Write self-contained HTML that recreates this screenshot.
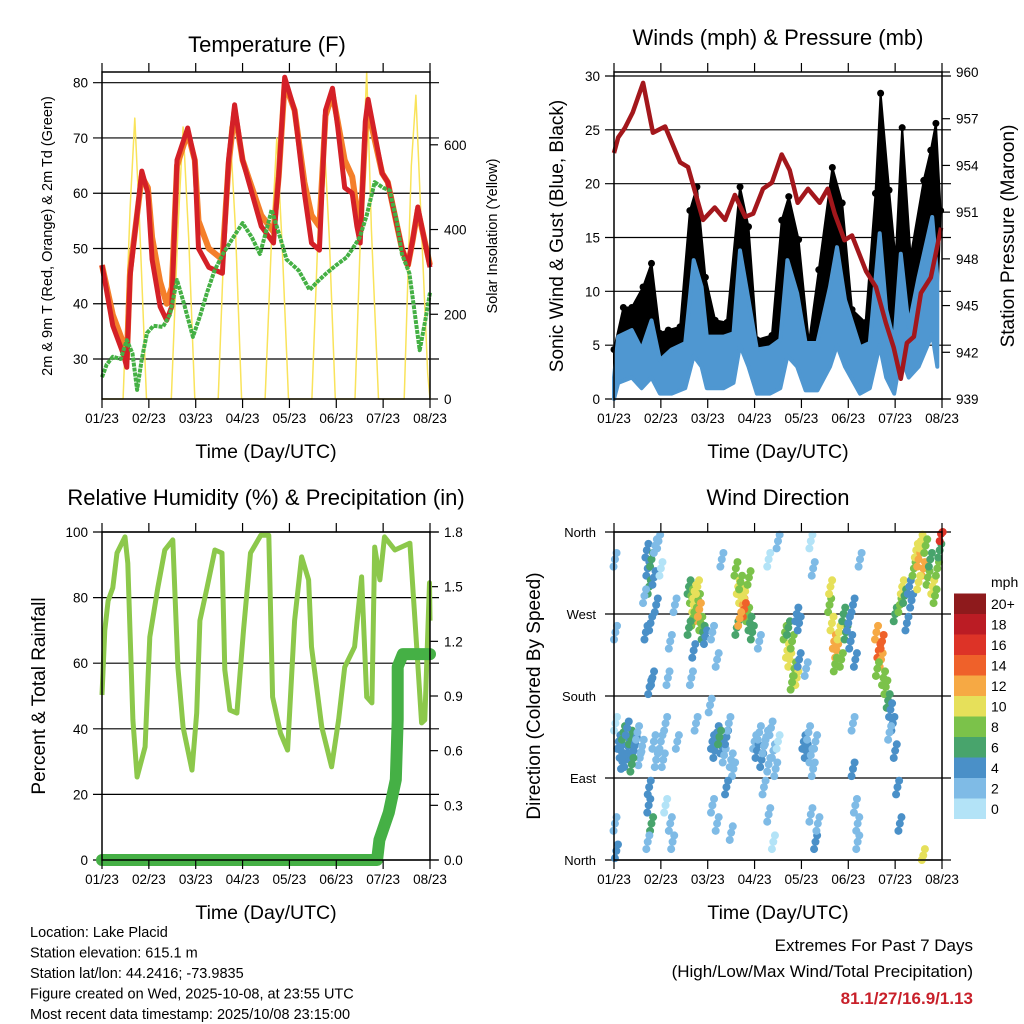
<!DOCTYPE html>
<html><head><meta charset="utf-8">
<style>
html,body{margin:0;padding:0;background:#fff;}
svg{display:block;font-family:"Liberation Sans",Arial,sans-serif;}
</style></head>
<body>
<svg id="chart" width="1024" height="1024" viewBox="0 0 1024 1024" xmlns="http://www.w3.org/2000/svg"></svg>
<script>
// ---------- DATA ----------
const dayLabels = ["01/23","02/23","03/23","04/23","05/23","06/23","07/23","08/23"];
const tempT = [0,0.23,0.45,0.53,0.6,0.85,0.98,1.07,1.24,1.38,1.49,1.6,1.83,1.98,2.06,2.28,2.57,2.7,2.83,3.0,3.4,3.66,3.77,3.9,4.11,4.32,4.47,4.64,4.77,4.92,5.03,5.18,5.34,5.44,5.51,5.62,5.68,5.98,6.1,6.4,6.53,6.63,6.74,7.0];
const tempRed = [47,36,31,28.5,45,64,60,48,39.5,37,39.5,66,71.8,66,50,46.6,45.5,66,76,66,54,51,63,81,75,60,51,49.7,75,79,72,61,60,54,51,73,77,63.6,62,50,47,51.5,57.5,46.6];
const tempOrange = [47,38,33,30,46,63,61,52,44,40,43,65,71,66,55,50,48,65,75,66,56,53,63,80,75,62,56,54,74,78,73,66,63,57,53,71,75,63.6,62,50,47,51.5,57,47];
const dewT = [0,0.1,0.23,0.4,0.53,0.65,0.75,0.85,0.96,1.1,1.3,1.45,1.6,1.75,1.94,2.1,2.24,2.4,2.58,2.8,3.0,3.2,3.37,3.5,3.62,3.8,3.94,4.2,4.43,4.6,4.79,5.0,5.22,5.35,5.5,5.65,5.82,6.0,6.14,6.29,6.4,6.56,6.78,6.9,7.0];
const dewPt = [26.7,29,30.4,30,33.4,31,24.4,30,34.7,36,35.8,38,44.3,40,34,38,42,46,49,52,54.6,52,49,53,57,52,48,46,42.5,44,45.5,47,48.4,50,52,56,62,61,60.5,55,49,45.5,31.6,37,42];
const solarT = [0,0.45,0.6,0.7,0.8,0.95,1.48,1.62,1.73,1.85,1.98,2.48,2.62,2.73,2.85,2.98,3.48,3.62,3.73,3.85,3.98,4.48,4.62,4.73,4.85,4.98,5.4,5.55,5.65,5.75,5.9,6.45,6.6,6.7,6.8,6.95,7.0];
const solarV = [0,0,450,663,420,0,0,400,642,380,0,0,420,642,400,0,0,380,616,350,0,0,420,640,380,0,0,500,772,400,0,0,550,717,450,60,0];
// Winds panel
const windT = [0,0.09,0.38,0.59,0.8,0.98,1.23,1.52,1.7,1.87,1.98,2.34,2.55,2.69,2.87,3.05,3.33,3.55,3.7,3.91,4.09,4.34,4.61,4.76,4.93,5.25,5.46,5.67,5.81,5.98,6.12,6.29,6.5,6.79,6.9];
const windTop = [2,5.8,6.4,4.6,7.3,3.6,4.6,5.2,12.9,10.4,5.8,5.8,6.1,13.8,9.2,4.6,4.8,5.5,12.9,9.8,5.2,5.2,10.4,14.1,9.2,4.8,5.2,15.4,8.3,5.2,13.5,6.7,11.3,16.9,11.3];
const windLow = [0,1.5,2,1,2,0.5,0.5,1,4,3,1,1,1.5,5,3,0.5,0.5,1,4,3,0.8,0.8,3,5,3,0.5,1,5,2,0.5,4,2,3,6,3];
const gustT = [0,0.2,0.38,0.62,0.8,0.98,1.16,1.41,1.62,1.77,1.95,2.16,2.41,2.69,2.87,3.05,3.37,3.58,3.73,3.94,4.16,4.37,4.66,4.87,5.08,5.37,5.58,5.69,5.87,6.01,6.15,6.33,6.61,6.76,6.87,6.97];
const gustV = [4.6,8.5,8.5,10.4,12.6,6.1,6.4,6.7,17.5,19.7,11.3,7.3,7.1,19.7,16,5.5,5.9,16.6,18.8,14.8,5.2,12,21.5,18.2,8.3,7.1,19.1,28.4,19.4,12.9,25.2,13.2,20.3,23.1,25.6,17.5];
const presT = [0,0.09,0.23,0.4,0.62,0.83,1.09,1.41,1.58,1.9,2.15,2.37,2.58,2.8,2.97,3.18,3.37,3.58,3.75,3.92,4.14,4.39,4.56,4.71,4.92,5.08,5.38,5.59,5.8,5.97,6.12,6.25,6.4,6.55,6.76,6.98];
const presV = [954.8,955.8,956.4,957.4,959.3,956.1,956.5,954.2,953.9,950.5,951.3,950.5,952.1,950.7,950.9,952.5,952.9,954.7,953.7,951.6,952.5,951.6,952.5,950.9,949.2,949.5,947.2,946.2,943.9,942.3,940.3,942.6,943,945.8,946.8,950];
// RH / precip panel
const rhT = [0,0.06,0.13,0.23,0.32,0.49,0.55,0.66,0.75,0.92,1.02,1.19,1.34,1.51,1.62,1.73,1.92,2.02,2.09,2.24,2.41,2.56,2.62,2.73,2.88,3.02,3.17,3.39,3.56,3.64,3.81,3.96,4.11,4.26,4.41,4.47,4.69,4.9,5.05,5.18,5.39,5.54,5.65,5.76,5.82,5.93,6.03,6.25,6.57,6.68,6.82,6.89,6.99,7.0];
const rhV = [50.3,70,79,83,93.6,98.5,90.5,42.7,25.3,34.5,68,83,94.5,97.6,58.8,40.5,27.4,44.8,73,83,94.5,93.6,58,45.7,44.8,70,93.6,99,99,49.7,38.7,33.5,73,92.4,85.4,65,40.5,28.4,42.7,58.8,65,86.3,49.7,47.9,95.4,85.4,98.5,94.5,96.6,73,41.8,42.7,84.5,73];
const precT = [0,5.87,5.92,6.12,6.27,6.31,6.31,6.42,7.0];
const precV = [0,0,0.11,0.26,0.44,0.77,1.06,1.13,1.13];
// Wind direction panel
const dirT = [0.1,0.15,0.2,0.25,0.3,0.35,0.4,0.45,0.5,0.55,0.6,0.18,0.28,0.38,0.02,0.02,0.03,0.03,0.05,
 0.7,0.72,0.75,0.8,0.85,0.9,0.95,0.78,0.88,0.65,0.68,0.82,0.76,0.74,0.8,0.72,0.75,0.85,0.9,
 1.0,1.05,1.1,1.15,1.2,1.1,1.2,1.25,1.0,1.3,1.35,
 1.6,1.65,1.7,1.72,1.75,1.8,1.85,1.9,1.78,1.68,1.82,1.6,1.95,1.7,1.65,1.75,
 2.1,2.15,2.2,2.3,2.35,2.4,2.45,2.5,2.55,2.25,2.05,2.1,2.2,2.4,2.5,2.2,2.1,2.3,
 2.6,2.65,2.7,2.75,2.8,2.85,2.9,2.7,2.78,2.62,2.88,2.95,2.68,
 3.0,3.05,3.1,3.15,3.2,3.25,3.3,3.35,3.4,3.45,3.5,3.2,3.3,3.4,3.1,3.3,3.5,
 3.65,3.7,3.75,3.8,3.85,3.9,3.72,3.8,3.95,3.9,3.95,
 4.05,4.1,4.15,4.2,4.3,4.25,4.2,4.3,4.35,4.1,4.25,4.2,
 4.6,4.65,4.7,4.75,4.8,4.85,4.9,4.95,5.0,5.05,5.1,5.15,4.72,4.62,
 5.1,5.15,5.2,5.1,5.2,5.25,
 5.6,5.65,5.7,5.75,5.8,5.85,5.9,5.95,6.0,6.05,6.1,5.62,5.72,5.88,
 6.0,6.1,6.15,6.2,6.3,6.4,6.45,6.5,6.55,6.6,6.65,6.7,6.75,6.8,6.9,6.95,6.98,6.25,6.35,6.85,6.5,6.6];
const dirV = [130,120,140,110,125,135,118,128,140,112,125,108,145,105,330,40,150,250,10,
 340,320,300,330,310,280,350,260,345,290,250,200,190,60,40,20,80,130,110,
 130,110,150,200,240,60,40,20,320,280,130,
 300,290,280,295,270,285,260,250,300,265,275,255,245,230,200,150,
 130,120,140,125,115,135,150,110,100,135,170,60,40,80,30,220,250,330,
 320,300,290,280,295,270,260,305,275,255,310,250,265,
 130,120,140,110,125,135,105,145,120,100,130,80,50,20,240,330,350,
 250,230,220,240,210,200,255,195,260,270,220,
 130,120,140,115,130,100,50,20,40,210,320,350,
 280,260,240,230,250,220,270,250,260,240,280,220,215,300,
 150,60,20,100,40,330,
 250,230,220,200,190,175,165,150,120,80,40,210,240,140,
 270,280,300,290,300,320,340,330,350,320,345,310,330,300,320,340,358,260,285,290,305,5];
const dirS = [5,4,6,4,5,7,4,5,3,3,2,5,4,6,2,3,1,3,4,
 4,5,6,7,4,4,2,4,3,2,4,4,5,5,7,3,4,3,2,
 2,3,2,3,2,1,2,2,1,3,2,
 7,9,11,10,12,9,8,7,10,8,13,6,4,4,3,2,
 4,5,4,5,3,4,2,3,2,7,3,3,2,4,3,3,2,2,
 9,10,11,12,10,8,7,8,14,7,9,6,12,
 3,4,3,4,2,3,2,2,3,2,1,3,2,1,2,1,2,
 9,10,11,9,8,10,7,8,4,4,4,
 4,5,3,2,2,3,2,4,3,2,2,1,
 8,10,12,13,11,9,6,6,5,4,4,4,8,10,
 3,2,2,4,3,2,
 12,14,13,9,8,6,5,4,4,4,4,8,15,3,
 6,8,10,6,4,9,11,13,10,12,9,8,7,10,8,6,16,4,5,9,11,10];
const speedBins = ["0","2","4","6","8","10","12","14","16","18","20+"];
const speedColors = ["#b3e3f7","#7fbbe6","#4a90c8","#48a46c","#7bc24a","#e6e05a","#f6a944","#ef612a","#dd3327","#bb1c24","#8e1a1c"];
const tempTicks = [30,40,50,60,70,80];
const solarTicks = [0,200,400,600];
const windTicks = [0,5,10,15,20,25,30];
const presTicks = [939,942,945,948,951,954,957,960];
const rhTicks = [0,20,40,60,80,100];
const precTicks = ["0.0","0.3","0.6","0.9","1.2","1.5","1.8"];
const dirTicks = ["North","East","South","West","North"];
const dirTickVals = [0,90,180,270,360];

// ---------- HELPERS ----------
const NS = "http://www.w3.org/2000/svg";
const svg = document.getElementById("chart");
function mk(tag, attrs, parent) {
  const e = document.createElementNS(NS, tag);
  for (const k in attrs) e.setAttribute(k, attrs[k]);
  (parent || svg).appendChild(e);
  return e;
}
function txt(str, x, y, size, anchor, extra) {
  const e = mk("text", Object.assign({x: x, y: y, "font-size": size, "text-anchor": anchor || "start", fill: "#000"}, extra || {}));
  e.textContent = str;
  return e;
}
function linScale(d0, d1, r0, r1) { return v => r0 + (v - d0) * (r1 - r0) / (d1 - d0); }
function frame(name) {
  const g = mk("g", {});
  
  
  return g;
}
function xAxis(g, x0, x1, y0, y1) {
  const xs = linScale(0, 7, x0, x1);
  dayLabels.forEach((lab, i) => {
    const x = xs(i);
    const t1 = mk("line", {x1: x, x2: x, y1: y0 - 9, y2: y0, stroke: "#000", "stroke-width": 1.2}, g);
    
    
    const t2 = mk("line", {x1: x, x2: x, y1: y1, y2: y1 + 9, stroke: "#000", "stroke-width": 1.2}, g);
    
    
    const l = txt(lab, x, y1 + 24, 13.5, "middle");
    
    
  });
  const t = txt("Time (Day/UTC)", (x0 + x1) / 2, y1 + 59, 19.5, "middle");
  
  
}
function border(g, x0, x1, y0, y1) {
  const r = mk("rect", {x: x0, y: y0, width: x1 - x0, height: y1 - y0, fill: "none", stroke: "#000", "stroke-width": 1.5}, g);
  
  
}
function grid(g, y, x0, x1) {
  const l = mk("line", {x1: x0 - 9, x2: x1 + 9, y1: y, y2: y, stroke: "#000", "stroke-width": 1.2}, g);
  
  
}
function yTickLeft(g, y, x0, label) {
  const l = txt(label, x0 - 14, y + 5, 13.5, "end");
  
  
}
function yTickRight(g, y, x1, label) {
  const tk = mk("line", {x1: x1, x2: x1 + 8, y1: y, y2: y, stroke: "#000", "stroke-width": 1.2}, g);
  
  
  const l = txt(label, x1 + 14, y + 5, 13.5, "start");
  
  
}
function vTitle(str, x, y, size) {
  return txt(str, x, y, size, "middle", {transform: "rotate(-90 " + x + " " + y + ")"});
}
function pathFrom(ts, vs, xs, ys) {
  return ts.map((t, i) => (i ? "L" : "M") + xs(t).toFixed(1) + "," + ys(vs[i]).toFixed(1)).join(" ");
}

// ---------- PANEL 1: TEMPERATURE ----------
(function () {
  const x0 = 102, x1 = 430, y0 = 72, y1 = 399;
  const g = frame("temperature-panel");
  const xs = linScale(0, 7, x0, x1);
  const yT = linScale(30, 80, 359, 82.7);
  const yS = linScale(0, 600, 399, 144.8);
  tempTicks.forEach(v => { grid(g, yT(v), x0, x1); yTickLeft(g, yT(v), x0, String(v)); });
  solarTicks.forEach(v => yTickRight(g, yS(v), x1, String(v)));
  const sol = mk("path", {d: pathFrom(solarT, solarV, xs, yS), fill: "none", stroke: "#f9e35a", "stroke-width": 1.5, "stroke-linejoin": "round"}, g);
  
  
  const org = mk("path", {d: pathFrom(tempT, tempOrange, xs, yT), fill: "none", stroke: "#f47f2a", "stroke-width": 6, "stroke-linejoin": "round"}, g);
  
  
  const red = mk("path", {d: pathFrom(tempT, tempRed, xs, yT), fill: "none", stroke: "#d42027", "stroke-width": 5, "stroke-linejoin": "round"}, g);
  
  
  const dew = mk("path", {d: pathFrom(dewT, dewPt, xs, yT), fill: "none", stroke: "#44b044", "stroke-width": 4, "stroke-dasharray": "4 1", "stroke-linejoin": "round"}, g);
  
  
  border(g, x0, x1, y0, y1);
  xAxis(g, x0, x1, y0, y1);
  const t = txt("Temperature (F)", 267, 52, 22, "middle");
  
  
  const yl = vTitle("2m & 9m T (Red, Orange) & 2m Td (Green)", 52, 236, 14.5);
  
  
  const yr = vTitle("Solar Insolation (Yellow)", 497, 236, 14.5);
  
  
})();

// ---------- PANEL 2: WINDS ----------
(function () {
  const x0 = 614, x1 = 942, y0 = 72, y1 = 399;
  const g = frame("winds-panel");
  const xs = linScale(0, 7, x0, x1);
  const yW = linScale(0, 30, 399, 76);
  const yP = linScale(939, 960, 399, 72);
  windTicks.forEach(v => { grid(g, yW(v), x0, x1); yTickLeft(g, yW(v), x0, String(v)); });
  presTicks.forEach(v => yTickRight(g, yP(v), x1, String(v)));
  // black gust band: from gust down to the wind top
  let d = pathFrom(gustT, gustV, xs, yW);
  for (let i = windT.length - 1; i >= 0; i--) d += " L" + xs(windT[i]).toFixed(1) + "," + yW(windTop[i] * 0.8).toFixed(1);
  d += " Z";
  const gb = mk("path", {d: d, fill: "#000", stroke: "#000", "stroke-width": 2, "stroke-linejoin": "round"}, g);
  
  
  gustT.forEach((t, i) => {
    const c = mk("circle", {cx: xs(t), cy: yW(gustV[i]), r: 3.5, fill: "#000"}, g);
    
    
  });
  // blue wind band
  let bd = pathFrom(windT, windTop, xs, yW);
  for (let i = windT.length - 1; i >= 0; i--) bd += " L" + xs(windT[i]).toFixed(1) + "," + yW(windLow[i]).toFixed(1);
  bd += " Z";
  const wb = mk("path", {d: bd, fill: "#4f97d1", stroke: "#4f97d1", "stroke-width": 4, "stroke-linejoin": "round"}, g);
  
  
  const pl = mk("path", {d: pathFrom(presT, presV, xs, yP), fill: "none", stroke: "#a3171c", "stroke-width": 4.5, "stroke-linejoin": "round"}, g);
  
  
  border(g, x0, x1, y0, y1);
  xAxis(g, x0, x1, y0, y1);
  const t = txt("Winds (mph) & Pressure (mb)", 778, 45, 22, "middle");
  
  
  const yl = vTitle("Sonic Wind & Gust (Blue, Black)", 563, 236, 19);
  
  
  const yr = vTitle("Station Pressure (Maroon)", 1014, 236, 19);
  
  
})();

// ---------- PANEL 3: RH & PRECIP ----------
(function () {
  const x0 = 102, x1 = 430, y0 = 532, y1 = 860;
  const g = frame("humidity-panel");
  const xs = linScale(0, 7, x0, x1);
  const yR = linScale(0, 100, 860, 532);
  const yPr = linScale(0, 1.8, 860, 532);
  rhTicks.forEach(v => { grid(g, yR(v), x0, x1); yTickLeft(g, yR(v), x0, String(v)); });
  precTicks.forEach(v => yTickRight(g, yPr(parseFloat(v)), x1, v));
  const rl = mk("path", {d: pathFrom(rhT, rhV, xs, yR), fill: "none", stroke: "#8cc84b", "stroke-width": 5, "stroke-linejoin": "round"}, g);
  
  
  const pr = mk("path", {d: pathFrom(precT, precV, xs, yPr), fill: "none", stroke: "#45b045", "stroke-width": 12, "stroke-linejoin": "round", "stroke-linecap": "round"}, g);
  
  
  border(g, x0, x1, y0, y1);
  xAxis(g, x0, x1, y0, y1);
  const t = txt("Relative Humidity (%) & Precipitation (in)", 266, 505, 22, "middle");
  
  
  const yl = vTitle("Percent & Total Rainfall", 45, 696, 19);
  
  
})();

// ---------- PANEL 4: WIND DIRECTION ----------
(function () {
  const x0 = 614, x1 = 942, y0 = 532, y1 = 860;
  const g = frame("wind-direction-panel");
  const xs = linScale(0, 7, x0, x1);
  const yD = linScale(0, 360, 860, 532);
  dirTickVals.forEach((v, i) => {
    grid(g, yD(v), x0, x1);
    const l = txt(dirTicks[i], x0 - 18, yD(v) + 5, 13, "end");
    
    
  });
  const spread = [[0, 0], [0.035, 7], [-0.03, -8]];
  dirT.forEach((t, i) => {
    const b = Math.min(10, Math.floor(dirS[i] / 2));
    spread.forEach(o => {
      const c = mk("circle", {cx: xs(t + o[0]), cy: yD(Math.max(0, Math.min(360, dirV[i] + o[1]))), r: 4, fill: speedColors[b]}, g);
      
      
    });
  });
  border(g, x0, x1, y0, y1);
  xAxis(g, x0, x1, y0, y1);
  const t = txt("Wind Direction", 778, 505, 22, "middle");
  
  
  const yl = vTitle("Direction (Colored By Speed)", 540, 696, 19);
  
  
  const cb = mk("g", {}, svg);
  
  
  const bh = 20.5, by = 819;
  speedBins.forEach((lab, i) => {
    const r = mk("rect", {x: 954, y: by - (i + 1) * bh, width: 32, height: bh, fill: speedColors[i]}, cb);
    
    
    const l = txt(lab, 991, by - (i + 0.5) * bh + 5, 14, "start");
    
    
  });
  const m = txt("mph", 991, 587, 14, "start");
  
  
})();

// ---------- FOOTER TEXT ----------
const infoLines = ["Location: Lake Placid","Station elevation: 615.1 m","Station lat/lon: 44.2416; -73.9835","Figure created on Wed, 2025-10-08, at 23:55 UTC","Most recent data timestamp: 2025/10/08 23:15:00"];
infoLines.forEach((s, i) => {
  const e = txt(s, 30, 937 + i * 20.5, 14.5, "start");
  
  
});
const e1 = txt("Extremes For Past 7 Days", 973, 951, 17, "end");


const e2 = txt("(High/Low/Max Wind/Total Precipitation)", 973, 977, 17, "end");


const e3 = txt("81.1/27/16.9/1.13", 973, 1004, 17, "end", {fill: "#c8202a", "font-weight": "bold"});


</script>
</body></html>
